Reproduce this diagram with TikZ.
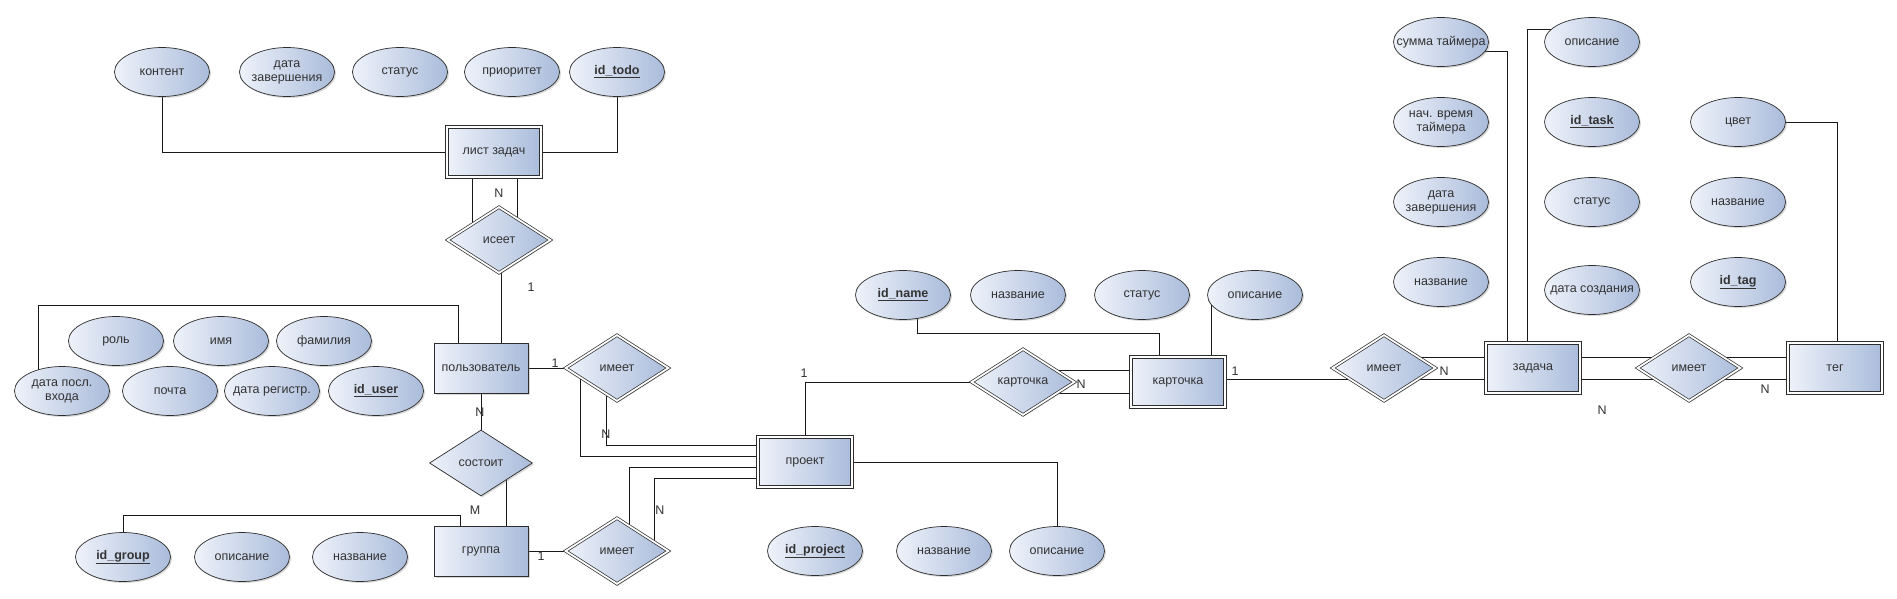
\documentclass[tikz,border=0pt]{standalone}
\usepackage{fontspec}
\setmainfont{Liberation Sans}
\usetikzlibrary{shapes.geometric,shadows,backgrounds,calc}
\definecolor{erl}{RGB}{238,242,250}
\definecolor{erd}{RGB}{170,188,219}
\definecolor{erline}{RGB}{45,45,45}
\newcommand{\idkey}[1]{\underline{\textbf{#1}}}
\tikzset{
  shd/.style  = {left color=erl, right color=erd, draw=erline, line width=0.7pt, text=black!80,
                 font=\fontsize{12.5}{14}\selectfont,
                 drop shadow={shadow xshift=1.5pt, shadow yshift=-1.5pt, opacity=0.3}},
  ent/.style  = {shd, rectangle, minimum width=94pt, minimum height=50pt},
  went/.style = {ent, double=white, double distance=1.8pt},
  rel/.style  = {shd, diamond, minimum width=103pt, minimum height=66pt, inner sep=0pt},
  wrel/.style = {rel, double=white, double distance=1.8pt},
  attr/.style = {shd, ellipse, minimum width=95pt, minimum height=49pt, inner xsep=-16pt, inner ysep=0pt, align=center},
  link/.style = {line width=0.9pt, draw=black!90},
  card/.style = {font=\fontsize{12.5}{14}\selectfont, text=black!80, inner sep=0pt}
}
\begin{document}
\begin{tikzpicture}[x=1pt, y=-1pt]
  \useasboundingbox (0,0) rectangle (1897,599);

  % лист задач
  \node[went] (todo) at (494,152) {лист задач};
  \node[attr] (t1) at (162,72) {контент};
  \node[attr] (t2) at (287,72) {дата\\завершения};
  \node[attr] (t3) at (400,72) {статус};
  \node[attr] (t4) at (512,72) {приоритет};
  \node[attr] (t5) at (617,72) {\idkey{id\_todo}};
  \node[wrel] (iseet) at (499,240) {исеет};

  % пользователь
  \node[ent] (user) at (481,368) {пользователь};
  \node[attr] (u1) at (116,341) {роль};
  \node[attr] (u2) at (221,341) {имя};
  \node[attr] (u3) at (324,341) {фамилия};
  \node[attr] (u4) at (62,391) {дата посл.\\входа};
  \node[attr] (u5) at (170,391) {почта};
  \node[attr] (u6) at (272,391) {дата регистр.};
  \node[attr] (u7) at (376,391) {\idkey{id\_user}};
  \node[wrel] (has1) at (617,368) {имеет};
  \node[rel]  (cons) at (481,463) {состоит};

  % группа
  \node[ent] (grp) at (481,551) {группа};
  \node[attr] (g1) at (123,557) {\idkey{id\_group}};
  \node[attr] (g2) at (242,557) {описание};
  \node[attr] (g3) at (360,557) {название};
  \node[wrel] (has2) at (617,551) {имеет};

  % проект
  \node[went] (proj) at (805,462) {проект};
  \node[attr] (p1) at (815,551) {\idkey{id\_project}};
  \node[attr] (p2) at (944,551) {название};
  \node[attr] (p3) at (1057,551) {описание};

  % карточка
  \node[wrel] (cdr) at (1023,382) {карточка};
  \node[went] (card) at (1178,382) {карточка};
  \node[attr] (c1) at (903,295) {\idkey{id\_name}};
  \node[attr] (c2) at (1018,295) {название};
  \node[attr] (c3) at (1142,295) {статус};
  \node[attr] (c4) at (1255,295) {описание};
  \node[wrel] (has3) at (1384,368) {имеет};

  % задача
  \node[went] (task) at (1533,368) {задача};
  \node[attr] (k1) at (1441,42) {сумма таймера};
  \node[attr] (k2) at (1441,122) {нач. время\\таймера};
  \node[attr] (k3) at (1441,202) {дата\\завершения};
  \node[attr] (k4) at (1441,282) {название};
  \node[attr] (k5) at (1592,42) {описание};
  \node[attr] (k6) at (1592,122) {\idkey{id\_task}};
  \node[attr] (k7) at (1592,202) {статус};
  \node[attr] (k8) at (1592,290) {дата создания};
  \node[wrel] (has4) at (1689,368) {имеет};

  % тег
  \node[went] (tag) at (1835,368) {тег};
  \node[attr] (e1) at (1738,122) {цвет};
  \node[attr] (e2) at (1738,202) {название};
  \node[attr] (e3) at (1738,282) {\idkey{id\_tag}};

  % связи
  \coordinate (ub) at (38,305);
  \coordinate (gb) at (123,515);
  \coordinate (cb) at (1159,333);
  \begin{pgfonlayer}{background}
    \fill[white] (0,0) rectangle (1897,599);
    \draw[link] (t1.south) |- (todo.west);
    \draw[link] (t5.south) |- (todo.east);
    \draw[link] ($(todo.south)+(-22,0)$) -- ++(0,80);
    \draw[link] ($(todo.south)+(23,0)$) -- ++(0,80);
    \draw[link] ($(iseet.center)+(2,0)$) -- ($(user.north)+(20,0)$);
    \draw[link] ($(u4.center)+(-24,0)$) -- (ub) -| ($(user.north)+(-23,0)$);
    \draw[link] (user) -- (has1);
    \draw[link] ($(has1.center)+(-37,0)$) |- ($(proj.west)+(0,-6)$);
    \draw[link] ($(has1.center)+(-11,0)$) |- ($(proj.west)+(0,-17)$);
    \draw[link] ($(has2.center)+(12,0)$) |- ($(proj.west)+(0,5)$);
    \draw[link] ($(has2.center)+(37,0)$) |- ($(proj.west)+(0,16)$);
    \draw[link] (user) -- (cons);
    \draw[link] ($(cons.center)+(25,0)$) -- ($(grp.north)+(25,0)$);
    \draw[link] (g1.center) -- (gb) -| ($(grp.north)+(-21,0)$);
    \draw[link] (grp) -- (has2);
    \draw[link] (proj.north) |- (cdr.center);
    \draw[link] ($(cdr.center)+(0,-12)$) -- ($(card.center)+(0,-12)$);
    \draw[link] ($(cdr.center)+(0,11)$) -- ($(card.center)+(0,11)$);
    \draw[link] ($(c1.center)+(14,0)$) |- (cb) -- (cb |- card.north);
    \draw[link] ($(card.north)+(33,0)$) |- (c4.center);
    \draw[link] ($(card.center)+(0,-3)$) -- ($(has3.center)+(0,11)$);
    \draw[link] ($(has3.center)+(0,-11)$) -- ($(task.center)+(0,-11)$);
    \draw[link] ($(has3.center)+(0,11)$) -- ($(task.center)+(0,11)$);
    \draw[link] ($(task.center)+(0,-11)$) -- ($(has4.center)+(0,-11)$);
    \draw[link] ($(task.center)+(0,11)$) -- ($(has4.center)+(0,11)$);
    \draw[link] ($(has4.center)+(0,-11)$) -- ($(tag.center)+(0,-11)$);
    \draw[link] ($(has4.center)+(0,11)$) -- ($(tag.center)+(0,11)$);
    \draw[link] ($(k1.center)+(0,9)$) -| ($(task.north)+(-26,0)$);
    \draw[link] ($(k5.center)+(0,-13)$) -| ($(task.north)+(-6,0)$);
    \draw[link] (e1.center) -| ($(tag.north)+(2,0)$);
    \draw[link] (proj.center) -| (p3.north);
  \end{pgfonlayer}

  % кратности
  \node[card] (n1)  at (499,193)  {N};
  \node[card] (n2)  at (531,287)  {1};
  \node[card] (n3)  at (555,363)  {1};
  \node[card] (n4)  at (480,412)  {N};
  \node[card] (n5)  at (475,510)  {M};
  \node[card] (n6)  at (606,434)  {N};
  \node[card] (n7)  at (660,510)  {N};
  \node[card] (n8)  at (541,556)  {1};
  \node[card] (n9)  at (804,373)  {1};
  \node[card] (n10) at (1081,384) {N};
  \node[card] (n11) at (1235,371) {1};
  \node[card] (n12) at (1444,371) {N};
  \node[card] (n13) at (1765,389) {N};
  \node[card] (n14) at (1602,410) {N};
\end{tikzpicture}
\end{document}
